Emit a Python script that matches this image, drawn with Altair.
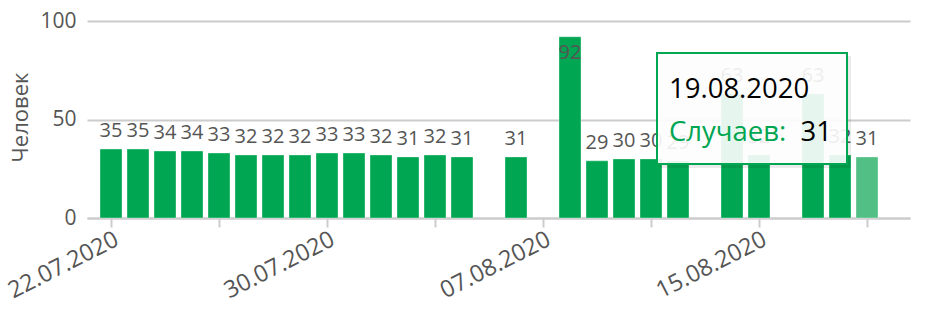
import altair as alt
import pandas as pd
from datetime import datetime, timedelta, timezone

# ---- data ----
dates = ["22.07.2020", "23.07.2020", "24.07.2020", "25.07.2020", "26.07.2020",
         "27.07.2020", "28.07.2020", "29.07.2020", "30.07.2020", "31.07.2020",
         "01.08.2020", "02.08.2020", "03.08.2020", "04.08.2020", "06.08.2020",
         "08.08.2020", "09.08.2020", "10.08.2020", "11.08.2020", "12.08.2020",
         "14.08.2020", "15.08.2020", "17.08.2020", "18.08.2020", "19.08.2020"]
values = [35, 35, 34, 34, 33, 32, 32, 32, 33, 33, 32, 31, 32, 31,
          31, 92, 29, 30, 30, 29, 63, 32, 63, 32, 31]
tick_dates = ["22.07.2020", "26.07.2020", "30.07.2020", "03.08.2020",
              "07.08.2020", "11.08.2020", "15.08.2020", "19.08.2020"]
hovered = "19.08.2020"
y_ticks = [0, 50, 100]
series_name = "Случаев:"
y_title = "Человек"

FONT = "Open Sans"
GREEN = "#00a651"
GREY = "#555555"


def to_dt(s):
    d, m, y = s.split(".")
    return datetime(int(y), int(m), int(d), tzinfo=timezone.utc)


def iso(s):
    return to_dt(s).strftime("%Y-%m-%dT00:00:00Z")


def dtobj(dt):
    return alt.DateTime(year=dt.year, month=dt.month, date=dt.day,
                        hours=dt.hour, minutes=dt.minute, seconds=dt.second, utc=True)


df = pd.DataFrame({"date": [iso(d) for d in dates], "value": values,
                   "hover": [d == hovered for d in dates]})

# layout
W, H = 823, 197
day_px = 27.0
first_px = 24.0
start = to_dt(dates[0]) - timedelta(days=first_px / day_px)
end = start + timedelta(days=W / day_px)

t0_ms = int(to_dt(dates[0]).timestamp() * 1000)

x_enc = alt.X("date:T",
              scale=alt.Scale(type="utc", domain=[dtobj(start), dtobj(end)], padding=0),
              axis=alt.Axis(values=[dtobj(to_dt(t)) for t in tick_dates],
                            format="%d.%m.%Y",
                            labelExpr=f"(round((datum.value - {t0_ms}) / 86400000) % 8 == 0) ? datum.label : ''",
                            labelAngle=-27, labelAlign="right", labelBaseline="top",
                            labelFont=FONT, labelFontSize=23.5, labelColor=GREY,
                            labelPadding=0, tickSize=9, tickColor="#cccccc",
                            tickWidth=2, domainColor="#cccccc", domainWidth=2,
                            grid=False, title=None, labelOverlap=False,
                            labelFlush=False, labelBound=False))

y_enc = alt.Y("value:Q",
              scale=alt.Scale(domain=[0, 100], nice=False),
              axis=alt.Axis(values=y_ticks, grid=True, gridColor="#cccccc",
                            gridWidth=2, ticks=False, domain=False,
                            labelFont=FONT, labelFontSize=21, labelColor=GREY,
                            labelPadding=11, title=y_title, titleFont=FONT,
                            titleFontSize=22, titleFontWeight="normal",
                            titleColor=GREY, titleX=-60, titleY=96,
                            titleBaseline="alphabetic"))

base = alt.Chart(df)

bars = base.mark_bar(width=22, stroke="#ffffff", strokeOpacity=0.35,
                     strokeWidth=1).encode(
    x=x_enc, y=y_enc,
    color=alt.condition("datum.hover", alt.value("#52bf84"), alt.value(GREEN)),
)

labels_out = base.transform_filter("datum.value <= 85").mark_text(
    font=FONT, fontSize=20, color=GREY, baseline="alphabetic", dy=-12
).encode(x="date:T", y="value:Q", text="value:Q")

labels_in = base.transform_filter("datum.value > 85").mark_text(
    font=FONT, fontSize=20, color=GREY, baseline="top", dy=6
).encode(x="date:T", y="value:Q", text="value:Q")

# tooltip overlay (static annotation in pixel space)
hv = values[dates.index(hovered)]
tip = alt.Chart(pd.DataFrame({"d": [hovered], "name": [series_name], "v": [str(hv)]}))

tip_shadow = tip.mark_rect(color="#000000", opacity=0.08).encode(
    x=alt.value(573), x2=alt.value(764), y=alt.value(35), y2=alt.value(147))
tip_box = tip.mark_rect(fill="#ffffff", fillOpacity=0.9, stroke=GREEN,
                        strokeWidth=2).encode(
    x=alt.value(570), x2=alt.value(760), y=alt.value(32), y2=alt.value(143))
tip_date = tip.mark_text(font=FONT, fontSize=27.5, color="#000000", align="left",
                         baseline="alphabetic").encode(
    x=alt.value(582), y=alt.value(77), text="d:N")
tip_name = tip.mark_text(font=FONT, fontSize=27.5, color=GREEN, align="left",
                         baseline="alphabetic").encode(
    x=alt.value(582), y=alt.value(120), text="name:N")
tip_val = tip.mark_text(font=FONT, fontSize=27.5, color="#000000", align="right",
                        baseline="alphabetic").encode(
    x=alt.value(745), y=alt.value(120), text="v:N")

chart = alt.layer(bars, labels_out, labels_in, tip_shadow, tip_box,
                  tip_date, tip_name, tip_val).properties(
    width=W, height=H,
    autosize=alt.AutoSizeParams(type="none"),
    padding={"left": 87, "top": 21, "right": 21, "bottom": 92},
).configure_view(stroke=None)

chart.save("out.html", embed_options={"renderer": "svg", "actions": False})
